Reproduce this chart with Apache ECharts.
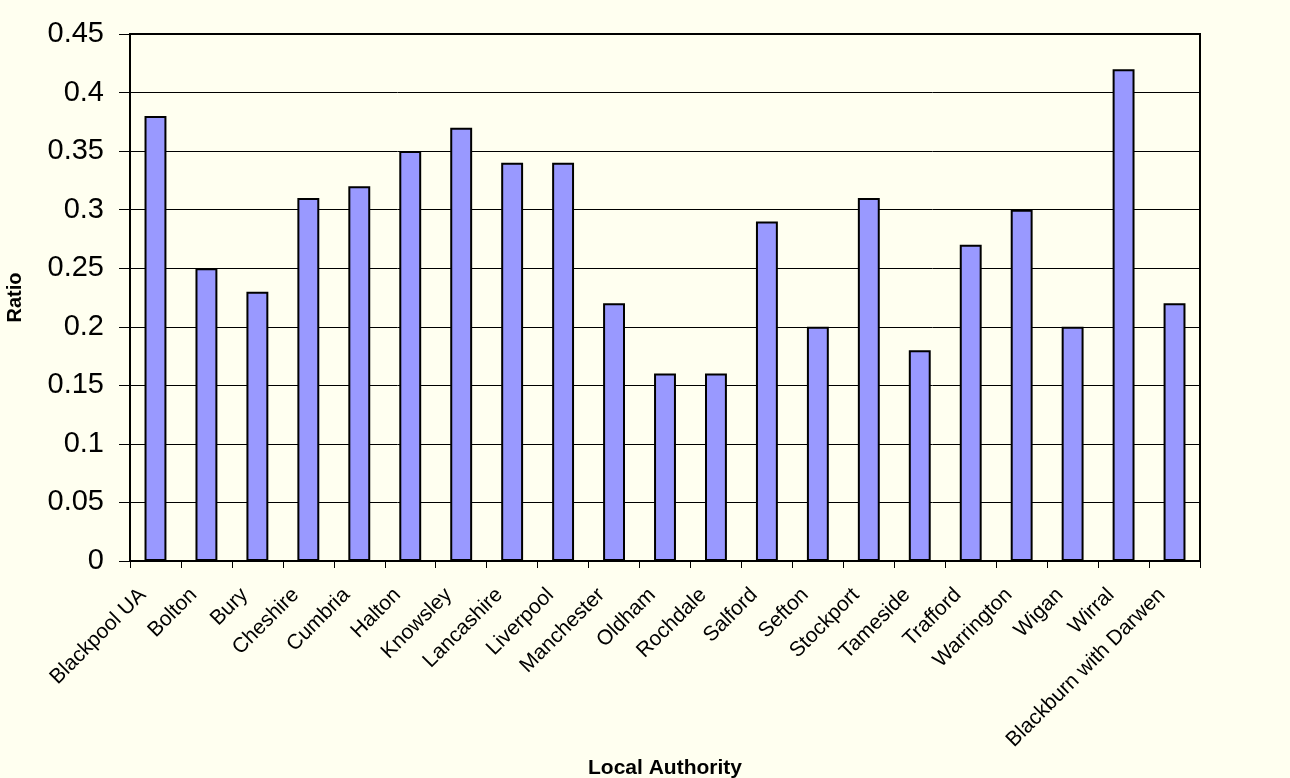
<!DOCTYPE html>
<html>
<head>
<meta charset="utf-8">
<script src="https://cdn.jsdelivr.net/npm/echarts@6/dist/echarts.min.js"></script>
<style>
  html, body { margin: 0; padding: 0; background: #FFFFF0; }
  #chart { width: 1290px; height: 778px; }
</style>
</head>
<body>
<div id="chart"></div>
<script>
const categories = ['Blackpool UA', 'Bolton', 'Bury', 'Cheshire', 'Cumbria', 'Halton', 'Knowsley',
  'Lancashire', 'Liverpool', 'Manchester', 'Oldham', 'Rochdale', 'Salford', 'Sefton', 'Stockport',
  'Tameside', 'Trafford', 'Warrington', 'Wigan', 'Wirral', 'Blackburn with Darwen'];
const ratios = [0.38, 0.25, 0.23, 0.31, 0.32, 0.35, 0.37, 0.34, 0.34, 0.22, 0.16, 0.16, 0.29, 0.20,
  0.31, 0.18, 0.27, 0.30, 0.20, 0.42, 0.22];
const yTicks = { min: 0, max: 0.45, interval: 0.05 };

const font = 'Liberation Sans, Arial, sans-serif';

const chart = echarts.init(document.getElementById('chart'), null, { renderer: 'canvas' });
chart.setOption({
  backgroundColor: '#FFFFF0',
  animation: false,
  grid: {
    left: 130, right: 90, top: 34, bottom: 217,
    containLabel: false,
    outerBoundsMode: 'none',
    show: true, borderColor: '#000', borderWidth: 2, backgroundColor: 'transparent'
  },
  xAxis: {
    type: 'category',
    data: categories,
    name: 'Local Authority',
    nameLocation: 'middle',
    nameGap: 188,
    nameTextStyle: { fontFamily: font, fontWeight: 'bold', fontSize: 21, color: '#000' },
    axisLine: { lineStyle: { color: '#000', width: 2 } },
    axisTick: { show: true, alignWithLabel: false, length: 7, lineStyle: { color: '#000', width: 1 } },
    axisLabel: {
      rotate: 45, interval: 0, margin: 18,
      padding: [0, 18, 0, 0],
      fontFamily: font, fontSize: 21, color: '#000'
    }
  },
  yAxis: {
    type: 'value',
    min: yTicks.min, max: yTicks.max, interval: yTicks.interval,
    name: 'Ratio',
    nameLocation: 'middle',
    nameGap: 105,
    nameTextStyle: { fontFamily: font, fontWeight: 'bold', fontSize: 20, color: '#000' },
    axisLine: { show: true, lineStyle: { color: '#000', width: 2 } },
    axisTick: { show: true, length: 11, lineStyle: { color: '#000', width: 1 } },
    axisLabel: {
      margin: 26,
      fontFamily: font, fontSize: 29, color: '#000',
      formatter: v => String(Math.round(v * 100) / 100)
    },
    splitLine: { show: true, lineStyle: { color: '#000', width: 1 } }
  },
  series: [{
    type: 'bar',
    data: ratios,
    barWidth: '43%',
    itemStyle: { color: '#9999FF', borderColor: '#000', borderWidth: 2 }
  }]
});
</script>
</body>
</html>
